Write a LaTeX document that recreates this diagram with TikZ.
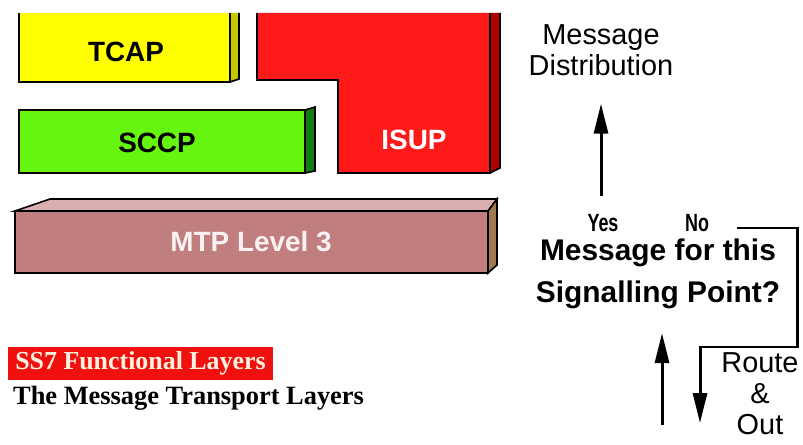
\documentclass[tikz,border=0pt]{standalone}
\usepackage{fontspec}
\setmainfont{Liberation Sans}
\newfontfamily\timesfont{Liberation Serif}
\newfontfamily\narrowfont[FakeStretch=0.72]{Liberation Sans}
\usepackage{tikz}
\usetikzlibrary{positioning, arrows.meta, calc}

\definecolor{tcapfront}{HTML}{FFFF00}
\definecolor{tcapside}{HTML}{C8C800}
\definecolor{sccpfront}{HTML}{66F50F}
\definecolor{sccpside}{HTML}{167A16}
\definecolor{isupfront}{HTML}{FF1A1A}
\definecolor{isupside}{HTML}{B00000}
\definecolor{mtpfront}{HTML}{C07E7E}
\definecolor{mtptop}{HTML}{D8AEAE}
\definecolor{mtpside}{HTML}{A07850}
\definecolor{mtptext}{HTML}{FAF2F2}
\definecolor{titlered}{HTML}{F01010}
\definecolor{titletext}{HTML}{FFF2DC}

\begin{document}
\begin{tikzpicture}[
    x=1bp, y=-1bp,
    edge/.style={draw=black, line width=1.6pt, line join=miter},
    blocktext/.style={font=\fontsize{28}{30}\selectfont\bfseries},
    msg/.style={font=\fontsize{29}{31}\selectfont, align=center, inner sep=0pt},
    question/.style={font=\fontsize{30}{42}\selectfont\bfseries, align=center, inner sep=0pt},
    yesno/.style={font=\narrowfont\fontsize{25}{27}\selectfont\bfseries, inner sep=0pt},
    arrow/.style={-{Triangle[length=30pt, width=14pt]}, line width=3pt},
    titlebox/.style={fill=titlered, text=titletext, font=\timesfont\fontsize{26}{28}\selectfont\bfseries,
                     minimum width=265bp, minimum height=33bp, inner sep=0pt},
    subtitle/.style={font=\timesfont\fontsize{26.5}{28}\selectfont\bfseries, inner sep=0pt}
]
    \useasboundingbox (0,0) rectangle (803,445);

    % TCAP
    \fill[tcapfront] (19,13) rectangle (230,82);
    \fill[tcapside] (230,13) -- (239,13) -- (239,79) -- (230,82) -- cycle;
    \draw[edge] (19,13) -- (19,82) -- (230,82) -- (230,13);
    \draw[edge] (239,13) -- (239,79) -- (230,82);
    \node[blocktext] (tcap) at (126,52) {TCAP};

    % ISUP
    \fill[isupfront] (257,13) -- (257,80) -- (338,80) -- (338,173) -- (490,173) -- (490,13) -- cycle;
    \fill[isupside] (490,13) -- (500,13) -- (500,168) -- (490,173) -- cycle;
    \draw[edge] (257,13) -- (257,80) -- (338,80) -- (338,173) -- (490,173) -- (490,13);
    \draw[edge] (500,13) -- (500,168) -- (490,173);
    \node[blocktext, text=white] (isup) at (414,140) {ISUP};

    % SCCP
    \filldraw[edge, fill=sccpside] (305,110) -- (315,107) -- (315,171) -- (305,173) -- cycle;
    \filldraw[edge, fill=sccpfront] (19,110) rectangle (305,173);
    \node[blocktext] (sccp) at (157,143) {SCCP};

    % MTP Level 3
    \filldraw[edge, fill=mtptop] (15,211) -- (50,199) -- (497,199) -- (488,211) -- cycle;
    \filldraw[edge, fill=mtpside] (488,211) -- (497,199) -- (497,265) -- (488,273) -- cycle;
    \filldraw[edge, fill=mtpfront] (15,211) rectangle (488,273);
    \node[blocktext, text=mtptext] (mtp) at (251,242) {MTP Level 3};

    % Legend
    \node[titlebox] (title) at (140.5,363.5) {SS7 Functional Layers};
    \node[subtitle, anchor=west] (sub) at (13,398) {The Message Transport Layers};

    % Decision
    \node[msg] (dist) at (601,50) {Message\\Distribution};
    \node[yesno] (yes) at (603,223) {Yes};
    \node[yesno] (no) at (697,223) {No};
    \node[question] (quest) at (658,274) {Message for this\\Signalling Point?};
    \node[msg] (route) at (760,394) {Route\\\&\\Out};
    \coordinate (in) at (662,425);

    % Arrows
    \draw[arrow, shorten <=18bp, shorten >=28bp] (yes.north -| dist) -- (dist.south);
    \draw[arrow] (no.east) ++(28,5) -| (797,347) -| (700,423);
    \draw[arrow, shorten >=24bp] (in) -- (in |- quest.south);

\end{tikzpicture}
\end{document}
